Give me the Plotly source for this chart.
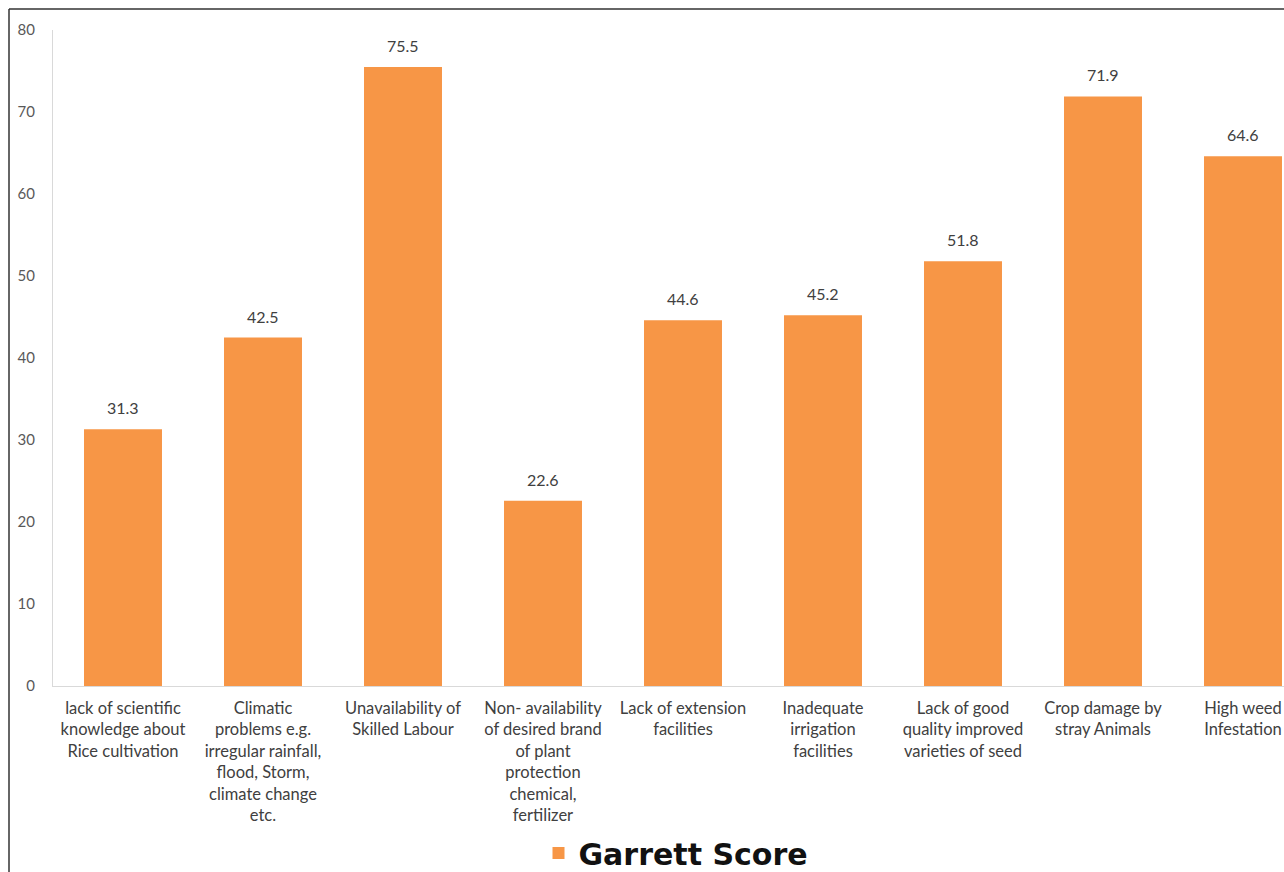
import plotly.graph_objects as go

categories = [
    "lack of scientific<br>knowledge about<br>Rice cultivation",
    "Climatic<br>problems e.g.<br>irregular rainfall,<br>flood, Storm,<br>climate change<br>etc.",
    "Unavailability of<br>Skilled Labour",
    "Non- availability<br>of desired brand<br>of plant<br>protection<br>chemical,<br>fertilizer",
    "Lack of extension<br>facilities",
    "Inadequate<br>irrigation<br>facilities",
    "Lack of good<br>quality improved<br>varieties of seed",
    "Crop damage by<br>stray Animals",
    "High weed<br>Infestation",
]
garrett_scores = [31.3, 42.5, 75.5, 22.6, 44.6, 45.2, 51.8, 71.9, 64.6]
y_ticks = [0, 10, 20, 30, 40, 50, 60, 70, 80]

W, H = 1284, 872
ML, MR, MT, MB = 53, 0, 30, 186
PW, PH = W - ML - MR, H - MT - MB


def px_x(x):
    return (x - ML) / PW


def px_y(y):
    return (H - MB - y) / PH


xs = list(range(len(categories)))

fig = go.Figure()
fig.add_trace(go.Bar(
    x=xs,
    y=garrett_scores,
    name="Garrett Score",
    marker=dict(color="#F79646", line=dict(width=0)),
    cliponaxis=False,
))

for xv, v in zip(xs, garrett_scores):
    fig.add_annotation(
        x=xv, y=v, xref="x", yref="y",
        text=f"{v:.1f}", showarrow=False,
        yanchor="bottom", yshift=10,
        font=dict(family="Lato", size=16, color="#404040"),
    )

fig.update_layout(
    width=W, height=H,
    margin=dict(l=ML, r=MR, t=MT, b=MB, autoexpand=False),
    paper_bgcolor="white",
    plot_bgcolor="white",
    bargap=0.443,
    showlegend=True,
    legend=dict(
        orientation="h",
        xref="container", yref="container",
        x=676 / W, xanchor="center",
        y=(H - 853) / H, yanchor="middle",
        bgcolor="rgba(0,0,0,0)",
        font=dict(family="DejaVu Sans", size=30, color="#111111", weight="bold"),
        itemsizing="constant",
    ),
    xaxis=dict(
        tickmode="array",
        tickvals=xs,
        ticktext=categories,
        range=[-0.5, -0.5 + PW / 140],
        showgrid=False,
        showline=True,
        linecolor="#D9D9D9",
        linewidth=1,
        ticks="",
        tickangle=0,
        ticklabelstandoff=7,
        tickfont=dict(family="Lato", size=16.5, color="#404040"),
        zeroline=False,
        automargin=False,
    ),
    yaxis=dict(
        range=[0, 80],
        tickvals=y_ticks,
        showgrid=False,
        showline=True,
        linecolor="#D9D9D9",
        linewidth=1,
        ticks="",
        ticklabelstandoff=14,
        tickfont=dict(family="Lato", size=15, color="#595959"),
        zeroline=False,
        automargin=False,
    ),
    shapes=[
        dict(type="line", xref="paper", yref="paper",
             x0=px_x(9), x1=px_x(1290), y0=px_y(9), y1=px_y(9),
             line=dict(color="#333333", width=1.5)),
        dict(type="line", xref="paper", yref="paper",
             x0=px_x(9), x1=px_x(9), y0=px_y(9), y1=px_y(880),
             line=dict(color="#333333", width=1.5)),
    ],
)

fig.write_html("out.html")
